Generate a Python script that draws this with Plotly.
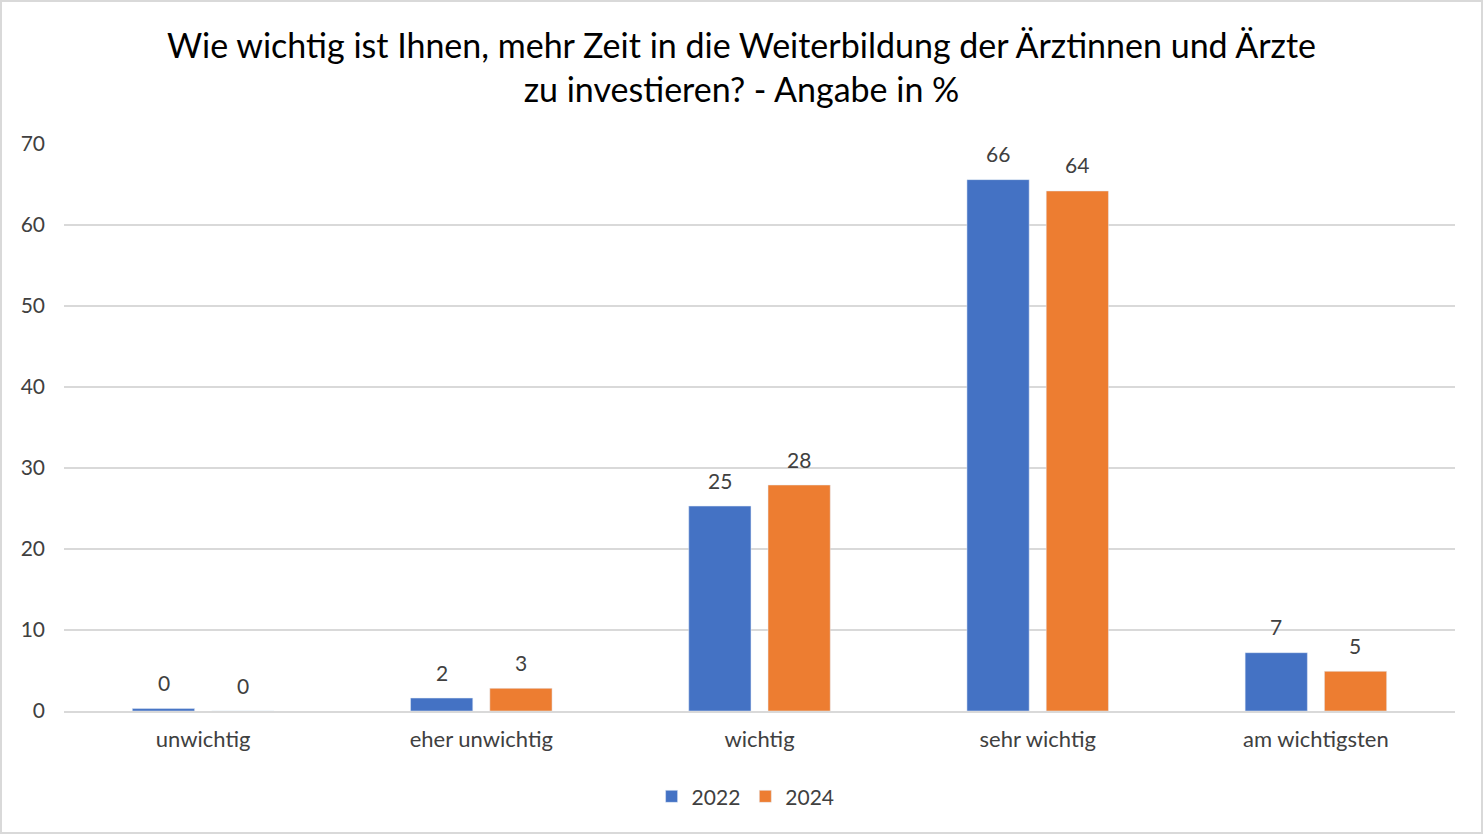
import plotly.graph_objects as go

categories = ["unwichtig", "eher unwichtig", "wichtig", "sehr wichtig", "am wichtigsten"]
values_2022 = [0.3, 1.6, 25.3, 65.6, 7.2]
values_2024 = [0.0, 2.8, 27.9, 64.2, 4.9]
labels_2022 = ["0", "2", "25", "66", "7"]
labels_2024 = ["0", "3", "28", "64", "5"]

FONT = "Lato, 'Open Sans', sans-serif"
W, H = 1483, 834
ML, MR, MT, MB = 64, 28, 144, 123

fig = go.Figure()
fig.add_trace(go.Bar(name="2022", x=categories, y=values_2022,
                     marker=dict(color="#4472C4")))
fig.add_trace(go.Bar(name="2024", x=categories, y=values_2024,
                     marker=dict(color="#ED7D31")))

# data labels, placed above each bar via the axis scales
for vals, labs, dx in [(values_2022, labels_2022, -39.5), (values_2024, labels_2024, 39.5)]:
    for c, v, t in zip(categories, vals, labs):
        fig.add_annotation(x=c, y=v, xref="x", yref="y", text=t, showarrow=False,
                           xshift=dx, yshift=26, yanchor="middle",
                           font=dict(size=21, color="#404040", family=FONT))

pw = W - ML - MR
ph = H - MT - MB
fig.add_shape(type="rect", xref="paper", yref="paper",
              x0=-(ML - 1) / pw, x1=1 + (MR - 1) / pw,
              y0=-(MB - 1) / ph, y1=1 + (MT - 1) / ph,
              line=dict(color="#d9d9d9", width=2), layer="below")

fig.update_layout(
    width=W, height=H,
    margin=dict(l=ML, r=MR, t=MT, b=MB),
    paper_bgcolor="white", plot_bgcolor="white",
    font=dict(family=FONT, color="#595959"),
    title=dict(text="Wie wichtig ist Ihnen, mehr Zeit in die Weiterbildung der Ärztinnen und Ärzte<br>zu investieren? - Angabe in %",
               x=0.5, xanchor="center", y=(H - 58) / H, yanchor="middle",
               font=dict(size=34, color="#000000", family=FONT)),
    barmode="group", bargap=0.43, bargroupgap=0.215,
    showlegend=True,
    legend=dict(orientation="h", x=0.49, xanchor="center", y=-0.115, yanchor="top",
                font=dict(size=21, color="#404040"), itemwidth=30, traceorder="normal"),
    xaxis=dict(showgrid=False, showline=True, linecolor="#d9d9d9", linewidth=2,
               tickfont=dict(size=22, color="#404040"), ticks="", ticklabelstandoff=8),
    yaxis=dict(range=[0, 70], dtick=10, showgrid=True, gridcolor="#d9d9d9", gridwidth=2,
               zeroline=False, showline=False,
               tickfont=dict(size=21, color="#404040"), ticklabelstandoff=18),
)

fig.write_html("out.html", config={"displayModeBar": False},
               post_script="document.body.style.margin='0';document.body.style.overflow='hidden';")
